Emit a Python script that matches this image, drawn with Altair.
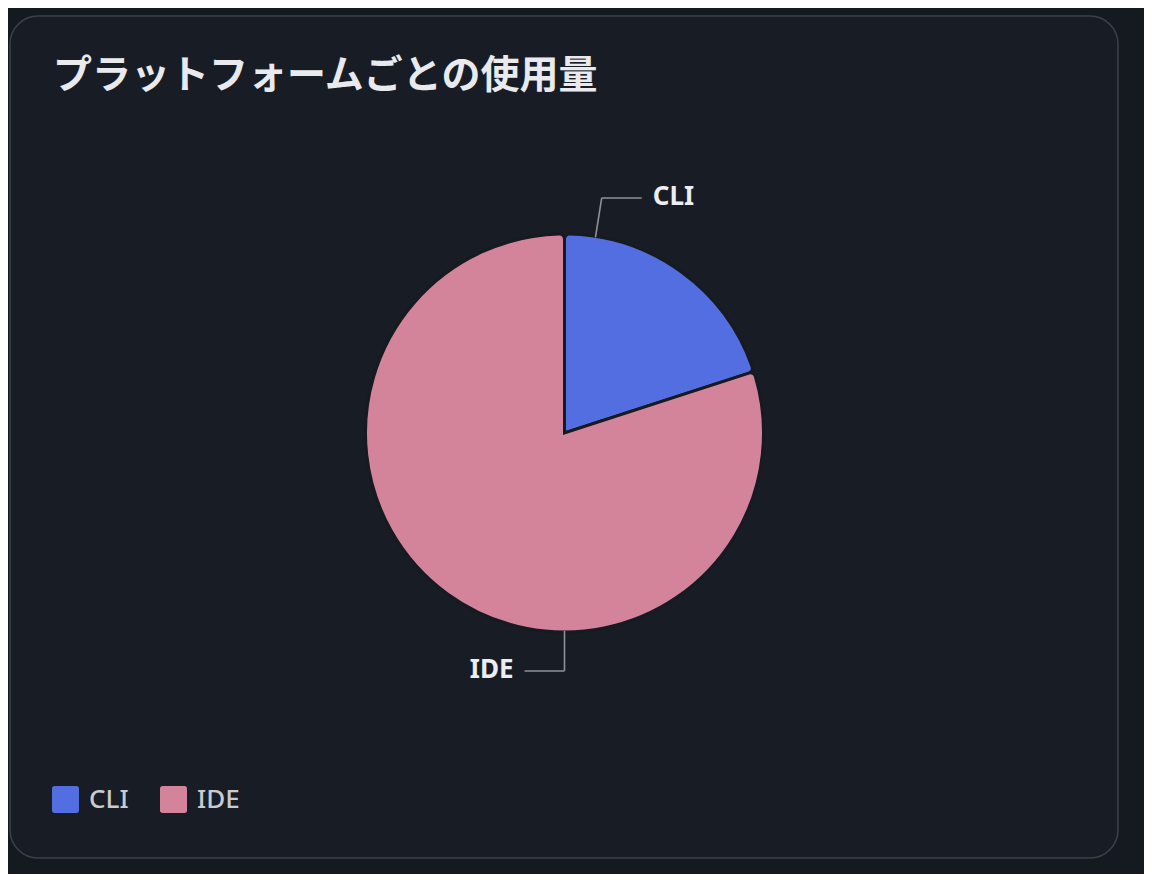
import altair as alt
import pandas as pd

# ---- data ----
platforms = ["CLI", "IDE"]
usage = [20, 80]
colors = ["#526EE0", "#D3849B"]
title_text = "プラットフォームごとの使用量"

df = pd.DataFrame({"platform": platforms, "usage": usage})

# ---- layout constants ----
W, H = 1108, 842
CX, CY = 554.5, 417
R = 199
L1, L2 = 40, 40
LINE = "#8E9197"
LABEL = "#EDEEF2"
LEGEND_PATH = ("M -0.8 -1 H 0.8 Q 1 -1 1 -0.8 V 0.8 Q 1 1 0.8 1 H -0.8 "
               "Q -1 1 -1 0.8 V -0.8 Q -1 -1 -0.8 -1 Z")

arcs = alt.Chart(df).mark_arc(
    outerRadius=R, cornerRadius=5, stroke="#161A21", strokeWidth=3
).encode(
    theta=alt.Theta("usage:Q", stack=True),
    color=alt.Color(
        "platform:N",
        sort=platforms,
        scale=alt.Scale(domain=platforms, range=colors),
        legend=alt.Legend(
            title=None, orient="none", legendX=42, legendY=770,
            direction="horizontal", symbolType=LEGEND_PATH, symbolSize=729,
            symbolStrokeWidth=0, symbolOpacity=1,
            labelFont="Noto Sans", labelFontSize=26, labelColor="#C9CBD1",
            labelFontWeight=500,
            labelOffset=10, columnPadding=31, padding=0,
        ),
    ),
    order=alt.Order("platform:N", sort="ascending"),
    x=alt.value(CX),
    y=alt.value(CY),
)

geo = (
    alt.Chart(df)
    .transform_joinaggregate(total="sum(usage)")
    .transform_window(cum="sum(usage)", sort=[alt.SortField("platform", order="ascending")], frame=[None, 0])
    .transform_calculate(
        a0="2*PI*(datum.cum-datum.usage)/datum.total",
        a1="2*PI*datum.cum/datum.total",
    )
    .transform_calculate(mid="(datum.a0+datum.a1)/2")
    .transform_calculate(
        pole="cos(datum.mid) >= 0 ? 0 : PI",
        side="datum.mid < PI ? 1 : -1",
    )
    .transform_calculate(anc="clamp(datum.pole, datum.a0 + 0.157, datum.a1 - 0.157)")
    .transform_calculate(
        x0=f"{CX} + {R - 1}*sin(datum.anc)",
        y0=f"{CY} - {R - 1}*cos(datum.anc)",
        x1=f"{CX} + {R - 1 + L1}*sin(datum.anc)",
        y1=f"{CY} - {R - 1 + L1}*cos(datum.anc)",
    )
    .transform_calculate(
        x2=f"datum.x1 + datum.side*{L2}",
        xt=f"datum.x1 + datum.side*{L2 + 11}",
    )
)

lines1 = geo.mark_rule(color=LINE, strokeWidth=1.6).encode(
    x=alt.X("x0:Q", scale=None, axis=None),
    y=alt.Y("y0:Q", scale=None, axis=None),
    x2="x1:Q",
    y2="y1:Q",
)
lines2 = geo.mark_rule(color=LINE, strokeWidth=1.6).encode(
    x=alt.X("x1:Q", scale=None, axis=None),
    y=alt.Y("y1:Q", scale=None, axis=None),
    x2="x2:Q",
    y2="y1:Q",
)

txt_r = geo.transform_filter("datum.side > 0").mark_text(
    align="left", baseline="middle", font="Noto Sans", fontSize=26,
    fontWeight="bold", color=LABEL, dy=-1,
).encode(
    x=alt.X("xt:Q", scale=None, axis=None),
    y=alt.Y("y1:Q", scale=None, axis=None),
    text="platform:N",
)
txt_l = geo.transform_filter("datum.side < 0").mark_text(
    align="right", baseline="middle", font="Noto Sans", fontSize=26,
    fontWeight="bold", color=LABEL, dy=-1,
).encode(
    x=alt.X("xt:Q", scale=None, axis=None),
    y=alt.Y("y1:Q", scale=None, axis=None),
    text="platform:N",
)

title = alt.Chart(pd.DataFrame({"t": [title_text]})).mark_text(
    align="left", baseline="middle", font="Noto Sans CJK JP", fontSize=39,
    fontWeight=600, color="#E9EAED",
).encode(text="t:N", x=alt.value(43), y=alt.value(60))

chart = (
    alt.layer(arcs, lines1, lines2, txt_r, txt_l, title)
    .properties(
        width=W, height=H, background="#151920",
        padding={"left": 2, "top": 8, "right": 26, "bottom": 16},
    )
    .configure_view(fill="#181D25", stroke="#3C4049", strokeWidth=1.5, cornerRadius=28)
)

chart.save("out.html", embed_options={"renderer": "svg", "actions": False})
